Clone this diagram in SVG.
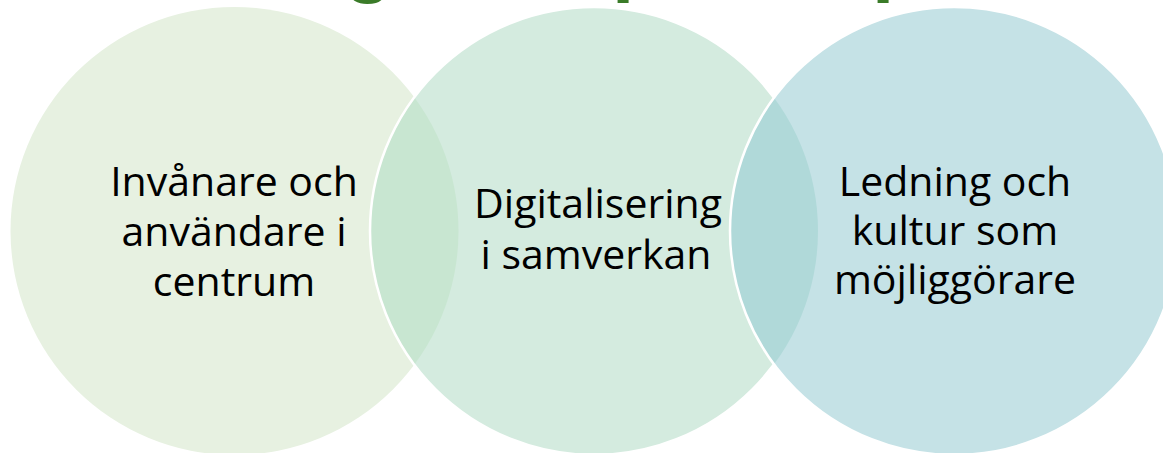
<svg xmlns="http://www.w3.org/2000/svg" width="1163" height="453" viewBox="0 0 1163 453">
  <style>
    .lbl { font-family: "Open Sans", "Liberation Sans", sans-serif; font-size: 41px; fill: #000; text-anchor: middle; }
    .ttl { font-family: "Liberation Sans", Arial, sans-serif; font-weight: bold; font-size: 80px; fill: #3A7B28; }
    .edge { fill: none; stroke: #FFFFFF; stroke-width: 2.5; }
  </style>
  <defs>
    <clipPath id="clip1"><circle cx="234.5" cy="231" r="224"/></clipPath>
    <clipPath id="clip2"><circle cx="594" cy="231" r="224"/></clipPath>
  </defs>
  <rect width="1163" height="453" fill="#FFFFFF"/>
  <g id="title">
    <text class="ttl" x="344" y="-13">g</text>
    <text class="ttl" x="612" y="-14">p</text>
    <text class="ttl" x="872" y="-14">p</text>
  </g>
  <g id="node-invanare">
    <circle cx="234.5" cy="231" r="224" fill="#E7F1E1"/>
  </g>
  <g id="node-digitalisering">
    <circle cx="594" cy="231" r="224" fill="#D4EBDF"/>
    <circle cx="594" cy="231" r="224" fill="#C8E6D1" clip-path="url(#clip1)"/>
    <circle class="edge" cx="594" cy="231" r="224"/>
  </g>
  <g id="node-ledning">
    <circle cx="954" cy="231" r="224" fill="#C5E2E6"/>
    <circle cx="954" cy="231" r="224" fill="#B0D9D9" clip-path="url(#clip2)"/>
    <circle class="edge" cx="954" cy="231" r="224"/>
  </g>
  <g id="labels">
    <text class="lbl"><tspan x="234" y="196">Invånare och</tspan><tspan x="234" y="246">användare i</tspan><tspan x="234" y="296">centrum</tspan></text>
    <text class="lbl"><tspan x="598" y="218">Digitalisering</tspan><tspan x="596" y="269">i samverkan</tspan></text>
    <text class="lbl"><tspan x="955" y="196">Ledning och</tspan><tspan x="955" y="245">kultur som</tspan><tspan x="955" y="294">möjliggörare</tspan></text>
  </g>
</svg>
